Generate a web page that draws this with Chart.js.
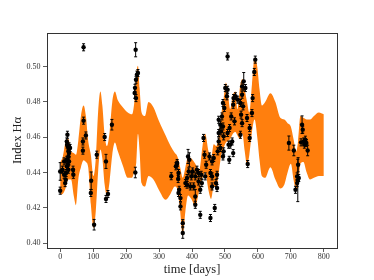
<!DOCTYPE html>
<html>
<head>
<meta charset="utf-8">
<script src="https://cdn.jsdelivr.net/npm/chart.js@4"></script>
<style>
  body { margin: 0; background: #fff; }
</style>
</head>
<body>
<canvas id="myChart" width="374" height="280"></canvas>
<script>
// GP band (lower / upper edge) sampled along time
const bandDays = [0, 8, 16, 25, 33, 41, 48, 55, 63, 71, 78, 85, 93, 101, 108, 115, 122, 128, 135, 142,
  150, 158, 166, 175, 190, 205, 218, 225, 231, 236, 241, 247, 257, 268, 283, 300, 320, 335, 348, 356,
  364, 372, 380, 388, 398, 410, 422, 432, 440, 450, 458, 466, 474, 480, 488, 496, 503, 510, 516, 524,
  532, 538, 546, 553, 560, 567, 574, 582, 590, 598, 605, 612, 622, 638, 653, 668, 680, 690, 700, 708,
  716, 722, 729, 738, 748, 758, 770, 785, 800];
const bandLow = [0.4275, 0.428, 0.431, 0.436, 0.436, 0.427, 0.4215, 0.436, 0.443, 0.447, 0.446, 0.443, 0.422, 0.4085, 0.418, 0.440, 0.453, 0.448, 0.433, 0.4265,
  0.435, 0.450, 0.457, 0.452, 0.444, 0.437, 0.437, 0.441, 0.446, 0.462, 0.452, 0.434, 0.432, 0.438, 0.436, 0.430, 0.4246, 0.428, 0.432, 0.430,
  0.418, 0.404, 0.418, 0.427, 0.425, 0.421, 0.430, 0.437, 0.440, 0.430, 0.425, 0.432, 0.432, 0.438, 0.449, 0.454, 0.457, 0.458, 0.459, 0.462,
  0.463, 0.461, 0.459, 0.462, 0.452, 0.444, 0.450, 0.463, 0.470, 0.460, 0.447, 0.438, 0.437, 0.443, 0.436, 0.431, 0.433, 0.440, 0.445, 0.436,
  0.430, 0.432, 0.445, 0.446, 0.440, 0.436, 0.437, 0.438, 0.438];
const bandHigh = [0.446, 0.449, 0.457, 0.459, 0.452, 0.451, 0.450, 0.458, 0.472, 0.478, 0.472, 0.458, 0.450, 0.438, 0.448, 0.474, 0.486, 0.478, 0.461, 0.455,
  0.463, 0.480, 0.486, 0.481, 0.477, 0.474, 0.473, 0.480, 0.496, 0.5005, 0.488, 0.474, 0.472, 0.480, 0.477, 0.469, 0.461, 0.455, 0.451, 0.449,
  0.443, 0.437, 0.443, 0.449, 0.448, 0.445, 0.441, 0.455, 0.462, 0.452, 0.448, 0.456, 0.455, 0.460, 0.472, 0.482, 0.491, 0.483, 0.476, 0.484,
  0.486, 0.476, 0.489, 0.493, 0.487, 0.480, 0.474, 0.490, 0.505, 0.500, 0.487, 0.478, 0.480, 0.485, 0.480, 0.471, 0.470, 0.468, 0.466, 0.459,
  0.452, 0.458, 0.472, 0.471, 0.470, 0.470, 0.472, 0.474, 0.473];

// measurements
const pointDays = [0, 0, 7, 12, 12, 15, 17, 18, 20, 20, 22, 20, 21, 23, 27, 25, 25, 27, 23, 25,
  30, 27, 39, 40, 71, 71, 69, 69, 78, 94, 93, 103, 111, 135, 139, 139, 145, 157,
  229, 226, 230, 230, 233, 236, 228, 227,
  337, 351, 354, 355, 359, 358, 359, 361, 365, 365, 372, 372, 385, 385, 390, 392, 395, 398, 402, 405,
  410, 410, 415, 420, 420, 425, 428, 430, 425, 435, 438, 440, 443, 453, 456, 456, 461, 461, 466, 469,
  473, 476, 476, 481, 481, 481, 508, 592, 589, 501, 508, 506, 494, 498, 491, 486, 488, 494, 496, 508,
  511, 514, 526, 532, 525, 529, 519, 539, 552, 557, 552, 547, 549, 552, 547, 555, 562, 567, 575, 575,
  582, 569, 478, 496, 494, 525, 516, 522, 461, 486, 584, 513,
  694, 709, 722, 719, 724, 719, 721, 714, 734, 736, 731, 739, 744, 747, 751, 741,
  388, 410, 380];
const pointVals = [0.4297, 0.4406, 0.4416, 0.4463, 0.4387, 0.4340, 0.4359, 0.4397, 0.4435, 0.4472, 0.4614, 0.4576, 0.4558, 0.4548, 0.4548, 0.4520, 0.4491, 0.4510, 0.4444, 0.4416,
  0.4539, 0.4463, 0.4416, 0.4387, 0.5110, 0.4694, 0.4576, 0.4524, 0.4610, 0.4353, 0.4284, 0.4104, 0.4501, 0.4601, 0.4463, 0.4250, 0.4278, 0.4671,
  0.5096, 0.4851, 0.4822, 0.4926, 0.4955, 0.4964, 0.4400, 0.4880,
  0.4379, 0.4435, 0.4444, 0.4454, 0.4397, 0.4363, 0.4284, 0.4302, 0.4255, 0.4208, 0.4113, 0.4057, 0.4369, 0.4331, 0.4406, 0.4472, 0.4321, 0.4378, 0.4406, 0.4321,
  0.4264, 0.4378, 0.4416, 0.4397, 0.4349, 0.4302, 0.4387, 0.4340, 0.4160, 0.4596, 0.4501, 0.4378, 0.4444, 0.4491, 0.4397, 0.4142, 0.4378, 0.4321, 0.4482, 0.4199,
  0.4340, 0.4312, 0.4387, 0.4576, 0.4699, 0.4624, 0.5058, 0.5040, 0.4970, 0.4879, 0.4869, 0.4832, 0.4794, 0.4766, 0.4718, 0.4671, 0.4633, 0.4661, 0.4605, 0.4624,
  0.4558, 0.4652, 0.4822, 0.4832, 0.4784, 0.4690, 0.4718, 0.4813, 0.4888, 0.4917, 0.4841, 0.4794, 0.4728, 0.4680, 0.4614, 0.4775, 0.4879, 0.4709, 0.4652, 0.4596,
  0.4737, 0.4448, 0.4520, 0.4520, 0.4491, 0.4510, 0.4558, 0.4576, 0.4463, 0.4539, 0.4822, 0.4472,
  0.4567, 0.4525, 0.4444, 0.4378, 0.4369, 0.4340, 0.4355, 0.4302, 0.4671, 0.4643, 0.4571, 0.4576, 0.4586, 0.4567, 0.4525, 0.4558,
  0.4491, 0.4217, 0.4340];
const pointErrs = [0.002, 0.005, 0.002, 0.002, 0.002, 0.002, 0.002, 0.002, 0.002, 0.002, 0.002, 0.002, 0.002, 0.002, 0.002, 0.002, 0.002, 0.002, 0.002, 0.002,
  0.002, 0.002, 0.002, 0.002, 0.002, 0.002, 0.002, 0.002, 0.002, 0.005, 0.002, 0.003, 0.002, 0.002, 0.004, 0.002, 0.002, 0.003,
  0.004, 0.003, 0.002, 0.002, 0.002, 0.002, 0.003, 0.002,
  0.002, 0.002, 0.002, 0.002, 0.002, 0.002, 0.002, 0.002, 0.002, 0.002, 0.002, 0.003, 0.002, 0.002, 0.002, 0.004, 0.002, 0.002, 0.002, 0.002,
  0.004, 0.002, 0.002, 0.002, 0.002, 0.002, 0.002, 0.002, 0.002, 0.002, 0.002, 0.002, 0.002, 0.002, 0.002, 0.002, 0.002, 0.002, 0.002, 0.002,
  0.002, 0.002, 0.002, 0.002, 0.002, 0.002, 0.002, 0.002, 0.002, 0.002, 0.002, 0.002, 0.002, 0.002, 0.002, 0.002, 0.002, 0.002, 0.002, 0.002,
  0.002, 0.002, 0.002, 0.002, 0.002, 0.002, 0.002, 0.002, 0.002, 0.005, 0.002, 0.002, 0.002, 0.002, 0.002, 0.002, 0.002, 0.002, 0.002, 0.002,
  0.002, 0.002, 0.002, 0.002, 0.002, 0.002, 0.002, 0.002, 0.002, 0.002, 0.002, 0.002,
  0.004, 0.003, 0.004, 0.002, 0.002, 0.002, 0.012, 0.002, 0.005, 0.002, 0.002, 0.002, 0.002, 0.002, 0.003, 0.002,
  0.004, 0.002, 0.002];

const xTicks = [0, 100, 200, 300, 400, 500, 600, 700, 800];
const yTicks = [0.40, 0.42, 0.44, 0.46, 0.48, 0.50];

const serif = "'Liberation Serif', 'DejaVu Serif', serif";

// error bars + the box around the axes
const errorBars = {
    id: 'errorBars',
    afterDatasetsDraw(chart) {
        const { ctx, scales: { x, y } } = chart;
        ctx.save();
        ctx.strokeStyle = '#000';
        ctx.lineWidth = 1;
        pointDays.forEach((d, i) => {
            const px = x.getPixelForValue(d);
            const top = y.getPixelForValue(pointVals[i] + pointErrs[i]);
            const bot = y.getPixelForValue(pointVals[i] - pointErrs[i]);
            ctx.beginPath();
            ctx.moveTo(px, top);
            ctx.lineTo(px, bot);
            ctx.moveTo(px - 1.5, top);
            ctx.lineTo(px + 1.5, top);
            ctx.moveTo(px - 1.5, bot);
            ctx.lineTo(px + 1.5, bot);
            ctx.stroke();
        });
        const a = chart.chartArea;
        ctx.strokeStyle = '#333';
        ctx.lineWidth = 1;
        ctx.strokeRect(a.left + 0.5, a.top + 0.5, a.right - a.left, a.bottom - a.top);
        ctx.restore();
    }
};

new Chart(document.getElementById('myChart'), {
    type: 'scatter',
    data: {
        datasets: [
            {
                type: 'line',
                data: bandDays.map((d, i) => ({ x: d, y: bandLow[i] })),
                borderWidth: 0,
                pointRadius: 0,
                fill: false,
                cubicInterpolationMode: 'monotone',
                order: 3
            },
            {
                type: 'line',
                data: bandDays.map((d, i) => ({ x: d, y: bandHigh[i] })),
                borderWidth: 0,
                pointRadius: 0,
                backgroundColor: '#ff7f0e',
                fill: '-1',
                cubicInterpolationMode: 'monotone',
                order: 2
            },
            {
                data: pointDays.map((d, i) => ({ x: d, y: pointVals[i] })),
                pointRadius: 2.2,
                pointBorderWidth: 0,
                backgroundColor: '#000',
                order: 1
            }
        ]
    },
    options: {
        responsive: false,
        animation: false,
        devicePixelRatio: 1,
        layout: { padding: { left: 0, right: 37, top: 33, bottom: 0 } },
        plugins: { legend: { display: false }, tooltip: { enabled: false } },
        scales: {
            x: {
                type: 'linear',
                min: -40,
                max: 840,
                afterBuildTicks: (scale) => { scale.ticks = xTicks.map(v => ({ value: v })); },
                afterFit: (scale) => { scale.height = 32; },
                grid: { drawOnChartArea: false, drawTicks: true, tickLength: 4, tickColor: '#333', tickWidth: 0.8 },
                border: { display: false },
                ticks: { color: '#333', font: { family: serif, size: 8 }, padding: 0, maxRotation: 0 },
                title: { display: true, text: 'time [days]', color: '#222', font: { family: serif, size: 12.5 }, padding: { top: 0, bottom: 2.5 } }
            },
            y: {
                min: 0.3972,
                max: 0.5191,
                afterBuildTicks: (scale) => { scale.ticks = yTicks.map(v => ({ value: v })); },
                afterFit: (scale) => { scale.width = 47; },
                grid: { drawOnChartArea: false, drawTicks: true, tickLength: 4, tickColor: '#333', tickWidth: 0.8 },
                border: { display: false },
                ticks: { color: '#333', font: { family: serif, size: 8 }, padding: 2.5, callback: v => v.toFixed(2) },
                title: { display: true, text: 'Index Hα', color: '#222', font: { family: serif, size: 12.5 }, padding: { top: 10, bottom: 0 } }
            }
        }
    },
    plugins: [errorBars]
});
</script>
</body>
</html>
